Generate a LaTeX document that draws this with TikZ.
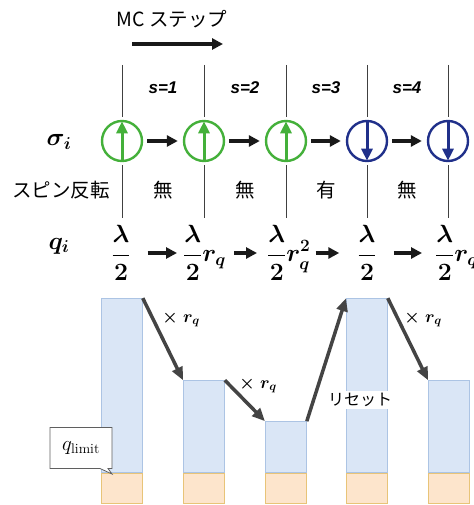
\documentclass[tikz,border=0pt]{standalone}
\usepackage{amsmath}
\usepackage{fontspec}
\setsansfont{Liberation Sans}
\newfontfamily\jp{Noto Sans CJK JP}
\usetikzlibrary{arrows.meta,shapes.callouts}
\definecolor{sgreen}{RGB}{68,176,58}
\definecolor{sblue}{RGB}{32,48,138}
\definecolor{barbluefill}{RGB}{218,230,246}
\definecolor{barblueline}{RGB}{172,196,228}
\definecolor{barorfill}{RGB}{253,229,204}
\definecolor{barorline}{RGB}{232,196,120}
\definecolor{agray}{RGB}{68,68,68}
\definecolor{cgray}{RGB}{95,95,95}
\begin{document}
\begin{tikzpicture}[x=1pt,y=-1pt,
  spin/.style={circle, draw, line width=2.4pt, minimum size=40pt, inner sep=0pt},
  spinarrow/.style={line width=3pt, -{Triangle[length=12pt,width=11pt]}, shorten <=1.5pt, shorten >=1.5pt},
  vline/.style={draw=black!75, line width=0.8pt},
  steparrow/.style={black!90, line width=3.2pt, -{Triangle[length=11pt,width=11pt]}},
  jtext/.style={font=\jp\fontsize{19.5}{22}\selectfont},
  slab/.style={font=\sffamily\bfseries\itshape\fontsize{17}{20}\selectfont},
  mathlab/.style={font=\fontsize{23}{26}\selectfont\boldmath, inner sep=1pt},
  bluebar/.style={draw=barblueline, fill=barbluefill, line width=0.8pt, minimum width=41pt, inner sep=0pt, anchor=south west},
  orbar/.style={draw=barorline, fill=barorfill, line width=0.8pt, minimum width=41pt, minimum height=30pt, inner sep=0pt, anchor=north west},
  bigarrow/.style={agray, line width=3.5pt, -{Triangle[length=13pt,width=11pt]}},
  multlab/.style={font=\fontsize{18}{20}\selectfont\boldmath}
]
\useasboundingbox (0,0) rectangle (473,505);

% MC step header
\node[jtext] (mc) at (172,19) {MC ステップ};
\coordinate (mcs) at (132,44);
\coordinate (mce) at (223,44);
\draw[steparrow] (mcs) -- (mce);

% spins
\node[spin, draw=sgreen] (c1) at (122,141) {};
\node[spin, draw=sgreen] (c2) at (204,141) {};
\node[spin, draw=sgreen] (c3) at (286,141) {};
\node[spin, draw=sblue] (c4) at (367,141) {};
\node[spin, draw=sblue] (c5) at (448,141) {};
\draw[spinarrow, sgreen] (c1.south) -- (c1.north);
\draw[spinarrow, sgreen] (c2.south) -- (c2.north);
\draw[spinarrow, sgreen] (c3.south) -- (c3.north);
\draw[spinarrow, sblue] (c4.north) -- (c4.south);
\draw[spinarrow, sblue] (c5.north) -- (c5.south);

% vertical lines
\foreach \i/\x in {1/122,2/204,3/286,4/367,5/448}{
  \coordinate (t\i) at (\x,65);
  \coordinate (u\i) at (\x,218);
  \draw[vline, shorten >=3pt] (t\i) -- (c\i.north);
  \draw[vline, shorten <=3pt] (c\i.south) -- (u\i);
}

% spin arrows
\draw[steparrow, shorten <=4pt, shorten >=5pt] (c1.east) -- (c2.west);
\draw[steparrow, shorten <=4pt, shorten >=5pt] (c2.east) -- (c3.west);
\draw[steparrow, shorten <=4pt, shorten >=5pt] (c3.east) -- (c4.west);
\draw[steparrow, shorten <=4pt, shorten >=5pt] (c4.east) -- (c5.west);

% s labels
\node[slab] (s1) at (163,88) {s=1};
\node[slab] (s2) at (245,88) {s=2};
\node[slab] (s3) at (326,88) {s=3};
\node[slab] (s4) at (407,88) {s=4};

% row labels
\node[mathlab] (sig) at (59,142) {$\sigma_i$};
\node[jtext] (flip) at (61,190) {スピン反転};
\node[mathlab] (qi) at (59,246) {$q_i$};

\node[jtext] (f1) at (163,190) {無};
\node[jtext] (f2) at (245,190) {無};
\node[jtext] (f3) at (326,190) {有};
\node[jtext] (f4) at (407,190) {無};

% q values
\node[mathlab] (q1) at (121,253) {$\displaystyle\frac{\lambda}{2}$};
\node[mathlab, anchor=west] (q2) at (182,253) {$\displaystyle\frac{\lambda}{2}r_q$};
\node[mathlab, anchor=west] (q3) at (266,253) {$\displaystyle\frac{\lambda}{2}r_q^2$};
\node[mathlab] (q4) at (367,253) {$\displaystyle\frac{\lambda}{2}$};
\node[mathlab, anchor=west] (q5) at (434,253) {$\displaystyle\frac{\lambda}{2}r_q$};
\draw[steparrow, shorten <=16pt, shorten >=5pt] (q1.east) -- (q2.west);
\draw[steparrow, shorten <=7pt, shorten >=9pt] (q2.east) -- (q3.west);
\draw[steparrow, shorten <=4pt, shorten >=17pt] (q3.east) -- (q4.west);
\draw[steparrow, shorten <=16pt, shorten >=12pt] (q4.east) -- (q5.west);

% bars
\node[bluebar, minimum height=174pt] (B1) at (101,473) {};
\node[bluebar, minimum height=92pt]  (B2) at (183,473) {};
\node[bluebar, minimum height=51pt]  (B3) at (265,473) {};
\node[bluebar, minimum height=174pt] (B4) at (346,473) {};
\node[bluebar, minimum height=92pt]  (B5) at (428,473) {};
\node[orbar] (O1) at (101,473) {};
\node[orbar] (O2) at (183,473) {};
\node[orbar] (O3) at (265,473) {};
\node[orbar] (O4) at (346,473) {};
\node[orbar] (O5) at (428,473) {};

% bar arrows
\draw[bigarrow] (B1.north east) -- (B2.north west);
\draw[bigarrow] (B2.north east) -- (B3.north west);
\draw[bigarrow] (B3.north east) -- (B4.north west);
\draw[bigarrow] (B4.north east) -- (B5.north west);

\node[multlab] (m1) at (181,319) {$\times\ r_q$};
\node[multlab] (m2) at (258,385) {$\times\ r_q$};
\node[multlab] (m3) at (423,319) {$\times\ r_q$};
\node[jtext, font=\jp\fontsize{16}{18}\selectfont, fill=white, inner sep=2pt] (reset) at (360,400) {リセット};

% q_limit callout
\coordinate (qtip) at (112,474);
\node[rectangle callout, draw=cgray, fill=white, line width=0.8pt,
      minimum width=62pt, minimum height=41pt, inner sep=2pt,
      callout absolute pointer={(qtip)}, callout pointer width=8pt,
      font=\fontsize{20}{22}\selectfont] (ql) at (81,448) {$q_{\mathrm{limit}}$};
\end{tikzpicture}
\end{document}
